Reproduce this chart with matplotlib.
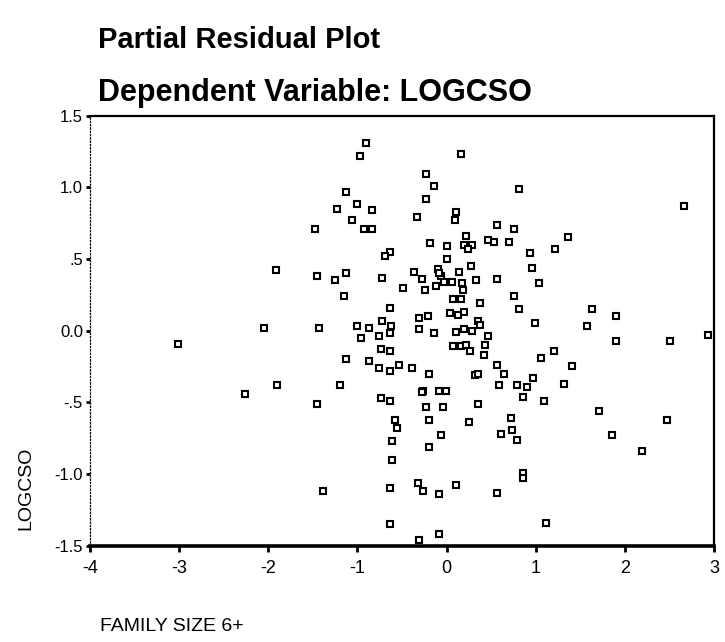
import matplotlib
matplotlib.use('Agg')
import matplotlib.pyplot as plt

plt.rcParams['font.family'] = ['Liberation Sans', 'DejaVu Sans']
plt.rcParams['axes.unicode_minus'] = False

# partial residuals: FAMILY SIZE 6+ vs LOGCSO
family_size = [
    -0.90, -0.97, 0.16, -0.23, -0.14, -0.23, 0.81, -1.13, -1.23, -1.00,
    -0.84, -1.06, -0.93, -0.84, -0.33, 0.11, 0.09, 0.57, 0.76, 1.21,
    -0.19, 0.01, 0.22, 0.20, 0.28, 0.24, 0.46, 0.53, 0.70, 0.93,
    0.96, 1.04, -0.64, -0.69, 0.01, 0.27, 0.14, 0.33, 0.57, -0.37,
    -0.28, -0.10, -0.06, -0.08, -0.03, 0.06, 0.17, 0.18, -0.12, -0.24,
    -0.49, -0.72, -1.13, -1.25, -1.15, 0.07, 0.16, 0.37, 0.76, 0.81,
    -0.64, 0.04, 0.13, 0.20, -0.31, -0.21, 0.35, 0.99, -1.01, -0.87,
    -0.72, -0.62, -0.31, -0.14, 0.11, 0.19, 0.28, 0.38,
    0.46, -0.96, -0.76, -0.63, -0.74, -0.63, -1.13, -0.87, -0.76, -0.64,
    -0.53, -0.39, -0.20, -1.20, 0.07, 0.16, 0.22, 0.26, 0.43, 0.42,
    0.56, 0.64, 0.32, 0.35, 1.06, 1.20, 0.97, 0.90, 0.79, 0.86,
    0.59, 1.09, -0.26, -0.28, -0.09, -0.01, -0.74, -0.64, -0.23, -0.04,
    0.35, -0.58, -0.56, -0.20, 0.25, 0.72, 0.73, 0.61, 0.79, -0.06,
    -0.61, -0.20, -0.61, 0.86, 0.86, -0.32, -0.27, -0.09, 0.11, 0.56,
    -0.63, -0.64, 1.11, -0.31, -0.09,
    -1.48, -1.91, -1.45, -1.43, -2.05, -3.01, -2.26, -1.90, -1.45, -1.39,
    2.66, 1.36, 1.63, 1.90, 1.57, 1.90, 2.51, 2.93, 1.41, 1.32,
    1.71, 1.85, 2.19, 2.47,
]
logcso = [
    1.31, 1.22, 1.23, 1.09, 1.01, 0.92, 0.99, 0.97, 0.85, 0.88,
    0.84, 0.77, 0.71, 0.71, 0.79, 0.83, 0.77, 0.74, 0.71, 0.57,
    0.61, 0.59, 0.66, 0.60, 0.60, 0.57, 0.63, 0.62, 0.62, 0.54,
    0.44, 0.33, 0.55, 0.52, 0.50, 0.45, 0.41, 0.35, 0.36, 0.41,
    0.36, 0.43, 0.38, 0.40, 0.34, 0.34, 0.33, 0.28, 0.31, 0.28,
    0.30, 0.37, 0.40, 0.35, 0.24, 0.22, 0.22, 0.19, 0.24, 0.15,
    0.16, 0.12, 0.11, 0.13, 0.09, 0.10, 0.07, 0.05, 0.03, 0.02,
    0.07, 0.03, 0.01, -0.02, -0.01, 0.01, 0.00, 0.04,
    -0.04, -0.05, -0.04, -0.02, -0.13, -0.14, -0.20, -0.21, -0.26, -0.28,
    -0.24, -0.26, -0.30, -0.38, -0.11, -0.11, -0.10, -0.14, -0.10, -0.17,
    -0.24, -0.30, -0.31, -0.30, -0.19, -0.14, -0.33, -0.39, -0.38, -0.46,
    -0.38, -0.49, -0.42, -0.43, -0.42, -0.42, -0.47, -0.49, -0.53, -0.53,
    -0.51, -0.62, -0.68, -0.62, -0.64, -0.61, -0.69, -0.72, -0.76, -0.73,
    -0.77, -0.81, -0.90, -0.99, -1.03, -1.06, -1.12, -1.14, -1.08, -1.13,
    -1.10, -1.35, -1.34, -1.46, -1.42,
    0.71, 0.42, 0.38, 0.02, 0.02, -0.09, -0.44, -0.38, -0.51, -1.12,
    0.87, 0.65, 0.15, 0.10, 0.03, -0.07, -0.07, -0.03, -0.25, -0.37,
    -0.56, -0.73, -0.84, -0.62,
]

x_ticks = [-4, -3, -2, -1, 0, 1, 2, 3]
y_ticks = [1.5, 1.0, 0.5, 0.0, -0.5, -1.0, -1.5]
y_tick_labels = ['1.5', '1.0', '.5', '0.0', '-.5', '-1.0', '-1.5']

fig = plt.figure(figsize=(7.25, 6.42), dpi=100)
ax = fig.add_axes([0.124, 0.150, 0.861, 0.670])

ax.plot(family_size, logcso, linestyle='none', marker='s', markersize=5,
        markerfacecolor='white', markeredgecolor='black', markeredgewidth=1.5,
        clip_on=False)

ax.set_xlim(-4, 3)
ax.set_ylim(-1.5, 1.5)
ax.set_xticks(x_ticks)
ax.set_xticklabels([str(v) for v in x_ticks])
ax.set_yticks(y_ticks)
ax.set_yticklabels(y_tick_labels)
ax.tick_params(axis='y', length=3, width=2, pad=2, labelsize=12)
ax.tick_params(axis='x', length=4, width=2, pad=6, labelsize=13)

ax.spines['left'].set_linestyle(':')
ax.spines['left'].set_linewidth(0.9)
ax.spines['top'].set_linewidth(1.6)
ax.spines['right'].set_linewidth(1.6)
ax.spines['bottom'].set_linewidth(2.6)

fig.text(0.135, 0.938, 'Partial Residual Plot', fontsize=21, fontweight='bold',
         va='center', ha='left')
fig.text(0.135, 0.855, 'Dependent Variable: LOGCSO', fontsize=22, fontweight='bold',
         va='center', ha='left')
fig.text(0.036, 0.24, 'LOGCSO', fontsize=14, rotation=90, va='center', ha='center')
fig.text(0.138, 0.024, 'FAMILY SIZE 6+', fontsize=14, va='center', ha='left')

fig.savefig('out.png', dpi=100)
